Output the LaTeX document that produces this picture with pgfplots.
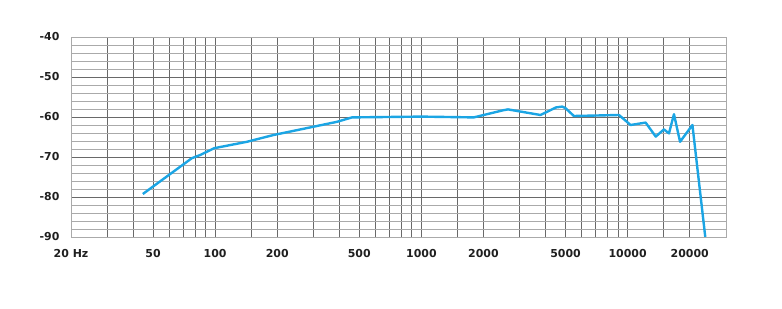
\documentclass[border=0pt]{standalone}
\usepackage{fontspec}
\setmainfont{DejaVu Sans}
\usepackage{pgfplots}
\pgfplotsset{compat=1.18}
\definecolor{curve}{RGB}{27,165,228}
\definecolor{gridmaj}{RGB}{105,105,105}
\definecolor{gridmin}{RGB}{170,170,170}
\begin{document}
\begin{tikzpicture}
\begin{semilogxaxis}[
  scale only axis,
  width=655bp, height=200bp,
  xmin=20, xmax=30000,
  ymin=-90, ymax=-40,
  xtick={20,50,100,200,500,1000,2000,5000,10000,20000},
  xticklabels={20 Hz,50,100,200,500,1000,2000,5000,10000,20000},
  minor xtick={30,40,60,70,80,90,150,300,400,600,700,800,900,1500,3000,4000,6000,7000,8000,9000,15000},
  ytick={-90,-80,-70,-60,-50,-40},
  yticklabels={-90,-80,-70,-60,-50,-40},
  minor ytick={-88,-86,-84,-82,-78,-76,-74,-72,-68,-66,-64,-62,-58,-56,-54,-52,-48,-46,-44,-42},
  grid=both,
  x grid style={gridmaj, line width=1bp},
  major y grid style={gridmaj, line width=1bp},
  minor y grid style={gridmin, line width=0.9bp},
  minor x grid style={gridmaj, line width=1bp},
  axis line style={gridmin, line width=0.9bp},
  major tick length=0pt, minor tick length=0pt,
  tick label style={font=\fontsize{11}{12}\selectfont\bfseries, text=black!88},
  xticklabel style={yshift=-9bp},
  yticklabel style={xshift=-8bp},
]
\addplot[curve, line width=2.4bp, line join=round] coordinates {
(44.6,-79.25) (77.1,-70.3) (84.6,-69.5) (98.9,-67.8) (142.5,-66.2)
(191.9,-64.5) (289,-62.6) (390,-61.2) (461,-60.1) (1000,-59.9)
(1795,-60.1) (2500,-58.3) (2630,-58.1) (3780,-59.5) (4500,-57.6) (4820,-57.4)
(5000,-57.8) (5490,-59.75) (9080,-59.5) (10340,-62) (12230,-61.4)
(13690,-64.9) (15000,-63.1) (15870,-64.1) (16780,-59.3) (17960,-66.2)
(20620,-62) (23800,-90)
};
\end{semilogxaxis}
\path (current axis.south west) ++(-71bp,-72bp) rectangle ++(782bp,309bp);
\end{tikzpicture}
\end{document}
